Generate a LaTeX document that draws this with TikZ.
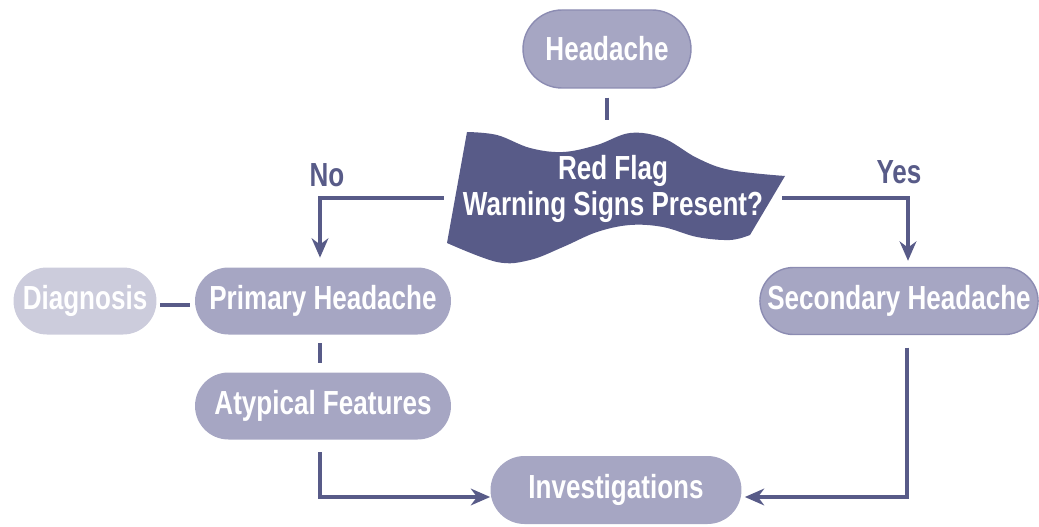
\documentclass[tikz,border=0pt]{standalone}
\usepackage{fontspec}
\setmainfont{Liberation Sans}[FakeStretch=0.78]
\usetikzlibrary{shapes.misc, arrows.meta, positioning, calc}
\definecolor{flagdark}{RGB}{88, 91, 136}
\definecolor{pillfill}{RGB}{166, 166, 195}
\definecolor{pillline}{RGB}{140, 140, 178}
\definecolor{diagfill}{RGB}{204, 204, 220}
\tikzset{
  pill/.style={rounded rectangle, fill=pillfill, text=white, minimum height=1.34cm, inner sep=2pt, font=\bfseries\fontsize{19}{20.5}\selectfont},
  rimmed/.style={draw=pillline, line width=0.8pt},
  link/.style={draw=flagdark, line width=2.3pt},
  arrow/.style={link, -{Stealth[length=11pt, width=9.5pt, inset=3.5pt]}},
  answer/.style={text=flagdark, font=\bfseries\fontsize{19}{20.5}\selectfont}
}
\begin{document}
\begin{tikzpicture}
  \useasboundingbox (0, 0) rectangle (20.78, -10.54);

  % Top
  \node[pill, rimmed, minimum width=3.5cm, minimum height=1.56cm] (head) at (12.14, -0.98) {Headache};

  % Red flag question
  \fill[flagdark] plot[smooth, tension=0.6] coordinates {(9.34,-2.64) (9.94,-2.70) (10.6,-2.96) (11.26,-3.04) (11.94,-2.90) (12.6,-2.66) (13.26,-2.76) (13.94,-3.16) (14.6,-3.40) (15.7,-3.52)}
    -- plot[smooth, tension=0.6] coordinates {(15.0,-4.70) (14.6,-4.80) (13.94,-4.74) (13.26,-4.54) (12.6,-4.50) (11.94,-4.64) (11.26,-4.94) (10.6,-5.20) (9.94,-5.24) (8.94,-4.86)}
    -- cycle;
  \node[text=white, font=\bfseries\fontsize{19}{20.5}\selectfont, align=center, minimum width=6.76cm, inner sep=0pt] (flag) at (12.26, -3.78) {Red Flag\\Warning Signs Present?};
  \draw[link, shorten <=0.18cm] (head.south) -- (12.14, -2.40);

  % Answers
  \node[answer] (no) at (6.54, -3.5) {No};
  \node[answer] (yes) at (17.98, -3.44) {Yes};

  % Level 2
  \node[pill, minimum width=5.26cm] (prim) at (6.46, -6.02) {Primary Headache};
  \node[pill, fill=diagfill, minimum width=3.0cm] (diag) at (1.70, -6.02) {Diagnosis};
  \node[pill, rimmed, minimum width=5.44cm] (sec) at (17.98, -6.02) {Secondary Headache};
  \draw[arrow, shorten >=0.19cm] ([yshift=-0.18cm]flag.west) -| ([xshift=-0.06cm]prim.north);
  \draw[arrow, shorten >=0.12cm] ([yshift=-0.18cm]flag.east) -| ([xshift=0.18cm]sec.north);
  \draw[link, shorten <=0.07cm, shorten >=0.09cm] ([yshift=-0.08cm]diag.east) -- ([yshift=-0.08cm]prim.west);

  % Level 3
  \node[pill, minimum width=5.26cm] (atyp) at (6.46, -8.12) {Atypical Features};
  \draw[link, shorten <=0.17cm, shorten >=0.19cm] ([xshift=-0.06cm]prim.south) -- ([xshift=-0.06cm]atyp.north);

  % Bottom
  \node[pill, minimum width=5.16cm, minimum height=1.36cm] (inv) at (12.32, -9.80) {Investigations};
  \draw[arrow, shorten <=0.25cm] ([xshift=-0.06cm]atyp.south) |- ([yshift=-0.14cm]inv.west);
  \draw[arrow, shorten <=0.25cm, shorten >=0.06cm] ([xshift=0.16cm]sec.south) |- ([yshift=-0.14cm]inv.east);
\end{tikzpicture}
\end{document}
